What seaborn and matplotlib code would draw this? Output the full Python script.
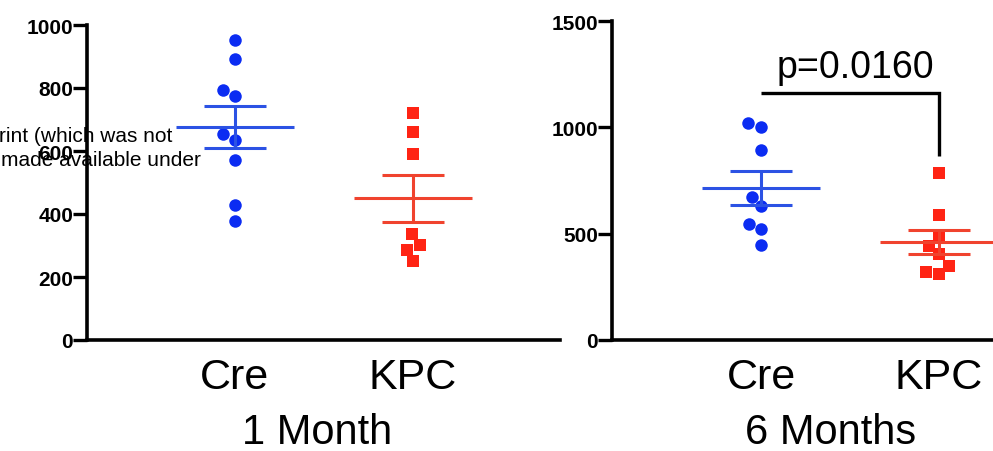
import numpy as np
import pandas as pd
import matplotlib
matplotlib.use("Agg")
import matplotlib.pyplot as plt
import matplotlib.transforms as mtransforms
import seaborn as sns

# ---- data ----
groups = ["Cre", "KPC"]
cre_1m = [953, 892, 794, 775, 655, 636, 570, 430, 377]
kpc_1m = [721, 661, 592, 335, 302, 287, 251]
cre_6m = [1020, 1003, 893, 672, 628, 545, 522, 447]
kpc_6m = [785, 588, 490, 443, 404, 349, 318, 310]
yticks_1m = [0, 200, 400, 600, 800, 1000]
yticks_6m = [0, 500, 1000, 1500]
panel_titles = ["1 Month", "6 Months"]
p_label = "p=0.0160"
bracket_y = [1161, 1161, 865]
watermark = ["rint (which was not", "made available under"]

sns.set_style("ticks")
plt.rcParams["font.family"] = ["Liberation Sans", "DejaVu Sans"]
plt.rcParams["text.color"] = "black"
plt.rcParams["xtick.color"] = "black"
plt.rcParams["ytick.color"] = "black"
plt.rcParams["xtick.labelcolor"] = "black"
plt.rcParams["ytick.labelcolor"] = "black"

point_colors = {"Cre": "#0b2cf2", "KPC": "#ff2414"}
line_colors = {"Cre": "#2c52e4", "KPC": "#f0432e"}
markers = {"Cre": "o", "KPC": "s"}

W, H = 993, 452
fig = plt.figure(figsize=(W / 100, H / 100), dpi=100)
ax1 = fig.add_axes([87 / W, 111 / H, 473 / W, 315 / H])
ax2 = fig.add_axes([612 / W, 111 / H, 381 / W, 319 / H])

panels = [
    (ax1, {"Cre": cre_1m, "KPC": kpc_1m}, yticks_1m, (-0.831, 1.826), (-9, 24)),
    (ax2, {"Cre": cre_6m, "KPC": kpc_6m}, yticks_6m, (-0.837, 1.303), (-14, 7)),
]

for ax, data, yt, xl, lab_shift in panels:
    df = pd.DataFrame({
        "group": [g for g in groups for _ in data[g]],
        "value": [v for g in groups for v in data[g]],
    })
    for g in groups:
        sns.swarmplot(data=df[df["group"] == g], x="group", y="value",
                      order=groups, color=point_colors[g], marker=markers[g],
                      size=9, linewidth=0, ax=ax, zorder=3)
    for i, g in enumerate(groups):
        v = np.asarray(data[g], dtype=float)
        m = v.mean()
        se = v.std(ddof=1) / np.sqrt(len(v))
        lc = line_colors[g]
        ax.hlines(m, i - 0.33, i + 0.33, color=lc, lw=2.2, zorder=4)
        ax.hlines([m - se, m + se], i - 0.175, i + 0.175, color=lc, lw=2.2, zorder=4)
        ax.vlines(i, m - se, m + se, color=lc, lw=2.2, zorder=4)
    ax.set_ylim(yt[0], yt[-1])
    ax.set_yticks(yt)
    ax.set_yticklabels([str(t) for t in yt], fontsize=15, fontweight="bold")
    ax.set_xlim(*xl)
    ax.set_xticks([0, 1])
    ax.set_xticklabels(groups, fontsize=31)
    for lab, dx in zip(ax.get_xticklabels(), lab_shift):
        lab.set_transform(lab.get_transform() +
                          mtransforms.ScaledTranslation(dx / 100, 0, fig.dpi_scale_trans))
    ax.tick_params(axis="x", length=0, pad=12)
    ax.tick_params(axis="y", length=10, width=2.4, pad=0)
    ax.set_xlabel("")
    ax.set_ylabel("")
    for s in ["top", "right"]:
        ax.spines[s].set_visible(False)
    for s in ["left", "bottom"]:
        ax.spines[s].set_linewidth(2.6)
        ax.spines[s].set_color("black")

# significance bracket
ax2.plot([0, 1, 1], bracket_y, color="black", lw=2.4, solid_capstyle="butt",
         solid_joinstyle="miter", clip_on=False)
ax2.text(0.53, 1285, p_label, ha="center", va="center", fontsize=27)

# panel titles
fig.text(317 / W, 1 - 444 / H, panel_titles[0], ha="center", va="baseline", fontsize=30)
fig.text(831 / W, 1 - 444 / H, panel_titles[1], ha="center", va="baseline", fontsize=30)

# watermark fragments
fig.text(172 / W, 1 - 137 / H, watermark[0], ha="right", va="center", fontsize=15)
fig.text(1 / W, 1 - 160 / H, watermark[1], ha="left", va="center", fontsize=15)

fig.savefig("out.png", dpi=100)
